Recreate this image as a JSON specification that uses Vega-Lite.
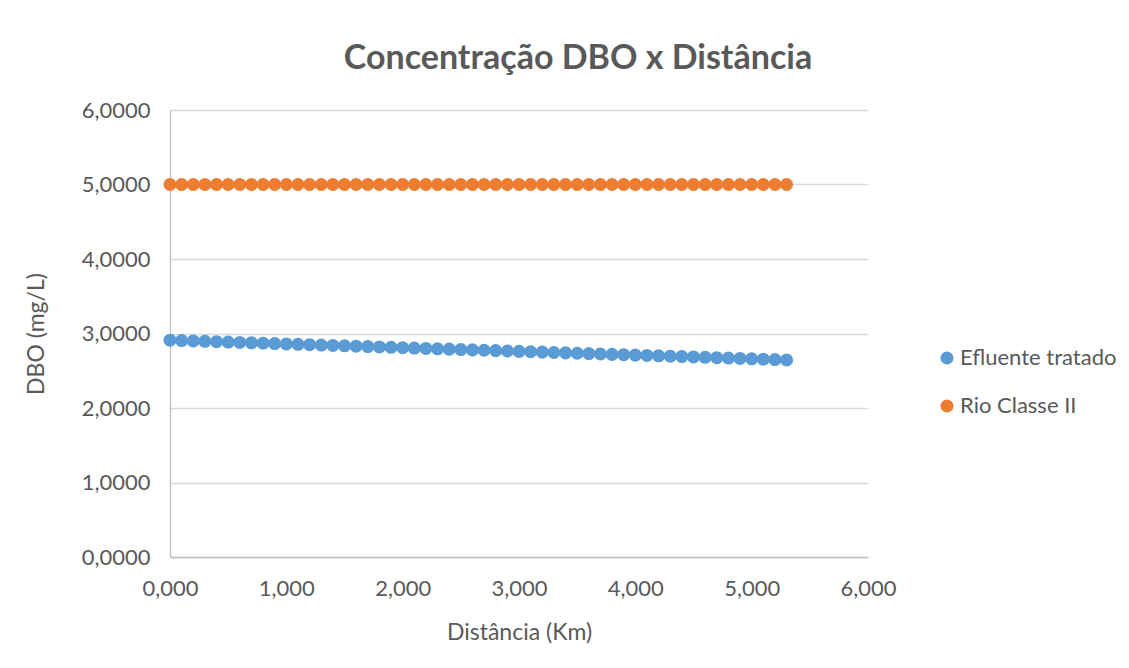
{
  "$schema": "https://vega.github.io/schema/vega-lite/v6.json",
  "width": 698,
  "height": 447,
  "autosize": {"type": "none"},
  "padding": {"left": 170, "top": 110, "right": 261, "bottom": 111},
  "background": "white",
  "title": {
    "text": "Concentração DBO x Distância",
    "font": "Lato",
    "fontSize": 34,
    "fontWeight": "bold",
    "color": "#595959",
    "anchor": "middle",
    "frame": "group",
    "dx": 59,
    "offset": 23
  },
  "config": {
    "locale": {"number": {"decimal": ",", "thousands": ".", "grouping": [3], "currency": ["R$", ""]}},
    "view": {"stroke": null},
    "font": "Lato"
  },
  "data": {
    "values": [
      {"km": 0.0, "dbo": 2.910, "serie": "Efluente tratado"},
      {"km": 0.1, "dbo": 2.905, "serie": "Efluente tratado"},
      {"km": 0.2, "dbo": 2.900, "serie": "Efluente tratado"},
      {"km": 0.3, "dbo": 2.895, "serie": "Efluente tratado"},
      {"km": 0.4, "dbo": 2.890, "serie": "Efluente tratado"},
      {"km": 0.5, "dbo": 2.885, "serie": "Efluente tratado"},
      {"km": 0.6, "dbo": 2.880, "serie": "Efluente tratado"},
      {"km": 0.7, "dbo": 2.875, "serie": "Efluente tratado"},
      {"km": 0.8, "dbo": 2.870, "serie": "Efluente tratado"},
      {"km": 0.9, "dbo": 2.865, "serie": "Efluente tratado"},
      {"km": 1.0, "dbo": 2.860, "serie": "Efluente tratado"},
      {"km": 1.1, "dbo": 2.855, "serie": "Efluente tratado"},
      {"km": 1.2, "dbo": 2.850, "serie": "Efluente tratado"},
      {"km": 1.3, "dbo": 2.845, "serie": "Efluente tratado"},
      {"km": 1.4, "dbo": 2.840, "serie": "Efluente tratado"},
      {"km": 1.5, "dbo": 2.835, "serie": "Efluente tratado"},
      {"km": 1.6, "dbo": 2.830, "serie": "Efluente tratado"},
      {"km": 1.7, "dbo": 2.825, "serie": "Efluente tratado"},
      {"km": 1.8, "dbo": 2.820, "serie": "Efluente tratado"},
      {"km": 1.9, "dbo": 2.815, "serie": "Efluente tratado"},
      {"km": 2.0, "dbo": 2.810, "serie": "Efluente tratado"},
      {"km": 2.1, "dbo": 2.805, "serie": "Efluente tratado"},
      {"km": 2.2, "dbo": 2.800, "serie": "Efluente tratado"},
      {"km": 2.3, "dbo": 2.795, "serie": "Efluente tratado"},
      {"km": 2.4, "dbo": 2.790, "serie": "Efluente tratado"},
      {"km": 2.5, "dbo": 2.785, "serie": "Efluente tratado"},
      {"km": 2.6, "dbo": 2.780, "serie": "Efluente tratado"},
      {"km": 2.7, "dbo": 2.775, "serie": "Efluente tratado"},
      {"km": 2.8, "dbo": 2.770, "serie": "Efluente tratado"},
      {"km": 2.9, "dbo": 2.765, "serie": "Efluente tratado"},
      {"km": 3.0, "dbo": 2.760, "serie": "Efluente tratado"},
      {"km": 3.1, "dbo": 2.755, "serie": "Efluente tratado"},
      {"km": 3.2, "dbo": 2.750, "serie": "Efluente tratado"},
      {"km": 3.3, "dbo": 2.745, "serie": "Efluente tratado"},
      {"km": 3.4, "dbo": 2.740, "serie": "Efluente tratado"},
      {"km": 3.5, "dbo": 2.735, "serie": "Efluente tratado"},
      {"km": 3.6, "dbo": 2.730, "serie": "Efluente tratado"},
      {"km": 3.7, "dbo": 2.725, "serie": "Efluente tratado"},
      {"km": 3.8, "dbo": 2.720, "serie": "Efluente tratado"},
      {"km": 3.9, "dbo": 2.715, "serie": "Efluente tratado"},
      {"km": 4.0, "dbo": 2.710, "serie": "Efluente tratado"},
      {"km": 4.1, "dbo": 2.705, "serie": "Efluente tratado"},
      {"km": 4.2, "dbo": 2.700, "serie": "Efluente tratado"},
      {"km": 4.3, "dbo": 2.695, "serie": "Efluente tratado"},
      {"km": 4.4, "dbo": 2.690, "serie": "Efluente tratado"},
      {"km": 4.5, "dbo": 2.685, "serie": "Efluente tratado"},
      {"km": 4.6, "dbo": 2.680, "serie": "Efluente tratado"},
      {"km": 4.7, "dbo": 2.675, "serie": "Efluente tratado"},
      {"km": 4.8, "dbo": 2.670, "serie": "Efluente tratado"},
      {"km": 4.9, "dbo": 2.665, "serie": "Efluente tratado"},
      {"km": 5.0, "dbo": 2.660, "serie": "Efluente tratado"},
      {"km": 5.1, "dbo": 2.655, "serie": "Efluente tratado"},
      {"km": 5.2, "dbo": 2.650, "serie": "Efluente tratado"},
      {"km": 5.3, "dbo": 2.645, "serie": "Efluente tratado"},
      {"km": 0.0, "dbo": 5, "serie": "Rio Classe II"},
      {"km": 0.1, "dbo": 5, "serie": "Rio Classe II"},
      {"km": 0.2, "dbo": 5, "serie": "Rio Classe II"},
      {"km": 0.3, "dbo": 5, "serie": "Rio Classe II"},
      {"km": 0.4, "dbo": 5, "serie": "Rio Classe II"},
      {"km": 0.5, "dbo": 5, "serie": "Rio Classe II"},
      {"km": 0.6, "dbo": 5, "serie": "Rio Classe II"},
      {"km": 0.7, "dbo": 5, "serie": "Rio Classe II"},
      {"km": 0.8, "dbo": 5, "serie": "Rio Classe II"},
      {"km": 0.9, "dbo": 5, "serie": "Rio Classe II"},
      {"km": 1.0, "dbo": 5, "serie": "Rio Classe II"},
      {"km": 1.1, "dbo": 5, "serie": "Rio Classe II"},
      {"km": 1.2, "dbo": 5, "serie": "Rio Classe II"},
      {"km": 1.3, "dbo": 5, "serie": "Rio Classe II"},
      {"km": 1.4, "dbo": 5, "serie": "Rio Classe II"},
      {"km": 1.5, "dbo": 5, "serie": "Rio Classe II"},
      {"km": 1.6, "dbo": 5, "serie": "Rio Classe II"},
      {"km": 1.7, "dbo": 5, "serie": "Rio Classe II"},
      {"km": 1.8, "dbo": 5, "serie": "Rio Classe II"},
      {"km": 1.9, "dbo": 5, "serie": "Rio Classe II"},
      {"km": 2.0, "dbo": 5, "serie": "Rio Classe II"},
      {"km": 2.1, "dbo": 5, "serie": "Rio Classe II"},
      {"km": 2.2, "dbo": 5, "serie": "Rio Classe II"},
      {"km": 2.3, "dbo": 5, "serie": "Rio Classe II"},
      {"km": 2.4, "dbo": 5, "serie": "Rio Classe II"},
      {"km": 2.5, "dbo": 5, "serie": "Rio Classe II"},
      {"km": 2.6, "dbo": 5, "serie": "Rio Classe II"},
      {"km": 2.7, "dbo": 5, "serie": "Rio Classe II"},
      {"km": 2.8, "dbo": 5, "serie": "Rio Classe II"},
      {"km": 2.9, "dbo": 5, "serie": "Rio Classe II"},
      {"km": 3.0, "dbo": 5, "serie": "Rio Classe II"},
      {"km": 3.1, "dbo": 5, "serie": "Rio Classe II"},
      {"km": 3.2, "dbo": 5, "serie": "Rio Classe II"},
      {"km": 3.3, "dbo": 5, "serie": "Rio Classe II"},
      {"km": 3.4, "dbo": 5, "serie": "Rio Classe II"},
      {"km": 3.5, "dbo": 5, "serie": "Rio Classe II"},
      {"km": 3.6, "dbo": 5, "serie": "Rio Classe II"},
      {"km": 3.7, "dbo": 5, "serie": "Rio Classe II"},
      {"km": 3.8, "dbo": 5, "serie": "Rio Classe II"},
      {"km": 3.9, "dbo": 5, "serie": "Rio Classe II"},
      {"km": 4.0, "dbo": 5, "serie": "Rio Classe II"},
      {"km": 4.1, "dbo": 5, "serie": "Rio Classe II"},
      {"km": 4.2, "dbo": 5, "serie": "Rio Classe II"},
      {"km": 4.3, "dbo": 5, "serie": "Rio Classe II"},
      {"km": 4.4, "dbo": 5, "serie": "Rio Classe II"},
      {"km": 4.5, "dbo": 5, "serie": "Rio Classe II"},
      {"km": 4.6, "dbo": 5, "serie": "Rio Classe II"},
      {"km": 4.7, "dbo": 5, "serie": "Rio Classe II"},
      {"km": 4.8, "dbo": 5, "serie": "Rio Classe II"},
      {"km": 4.9, "dbo": 5, "serie": "Rio Classe II"},
      {"km": 5.0, "dbo": 5, "serie": "Rio Classe II"},
      {"km": 5.1, "dbo": 5, "serie": "Rio Classe II"},
      {"km": 5.2, "dbo": 5, "serie": "Rio Classe II"},
      {"km": 5.3, "dbo": 5, "serie": "Rio Classe II"}
    ]
  },
  "mark": {"type": "point", "filled": true, "opacity": 1, "size": 170, "shape": "circle"},
  "encoding": {
    "x": {
      "field": "km", "type": "quantitative",
      "scale": {"domain": [0, 6], "nice": false, "zero": true},
      "axis": {
        "title": "Distância (Km)", "values": [0, 1, 2, 3, 4, 5, 6], "format": ".3f",
        "grid": false, "ticks": false, "labelFlush": false, "domainColor": "#BFBFBF", "domainWidth": 1.3,
        "labelFont": "Lato", "labelFontSize": 22, "labelColor": "#595959", "labelPadding": 21,
        "titleFont": "Lato", "titleFontSize": 23, "titleFontWeight": "normal", "titleColor": "#595959", "titlePadding": 22
      }
    },
    "y": {
      "field": "dbo", "type": "quantitative",
      "scale": {"domain": [0, 6], "nice": false},
      "axis": {
        "title": "DBO (mg/L)", "values": [0, 1, 2, 3, 4, 5, 6], "format": ".4f",
        "grid": true, "gridColor": "#D9D9D9", "gridWidth": 1.3, "ticks": false, "labelFlush": false,
        "domainColor": "#BFBFBF", "domainWidth": 1.3,
        "labelFont": "Lato", "labelFontSize": 22, "labelColor": "#595959", "labelPadding": 20,
        "titleFont": "Lato", "titleFontSize": 23, "titleFontWeight": "normal", "titleColor": "#595959", "titlePadding": 33
      }
    },
    "color": {
      "field": "serie", "type": "nominal",
      "scale": {"domain": ["Efluente tratado", "Rio Classe II"], "range": ["#5B9BD5", "#ED7D31"]},
      "legend": {
        "title": null, "orient": "none", "legendX": 766, "legendY": 237,
        "symbolType": "circle", "symbolSize": 170, "symbolStrokeWidth": 0,
        "labelFont": "Lato", "labelFontSize": 22, "labelColor": "#595959",
        "rowPadding": 26, "labelOffset": 2
      }
    }
  }
}
